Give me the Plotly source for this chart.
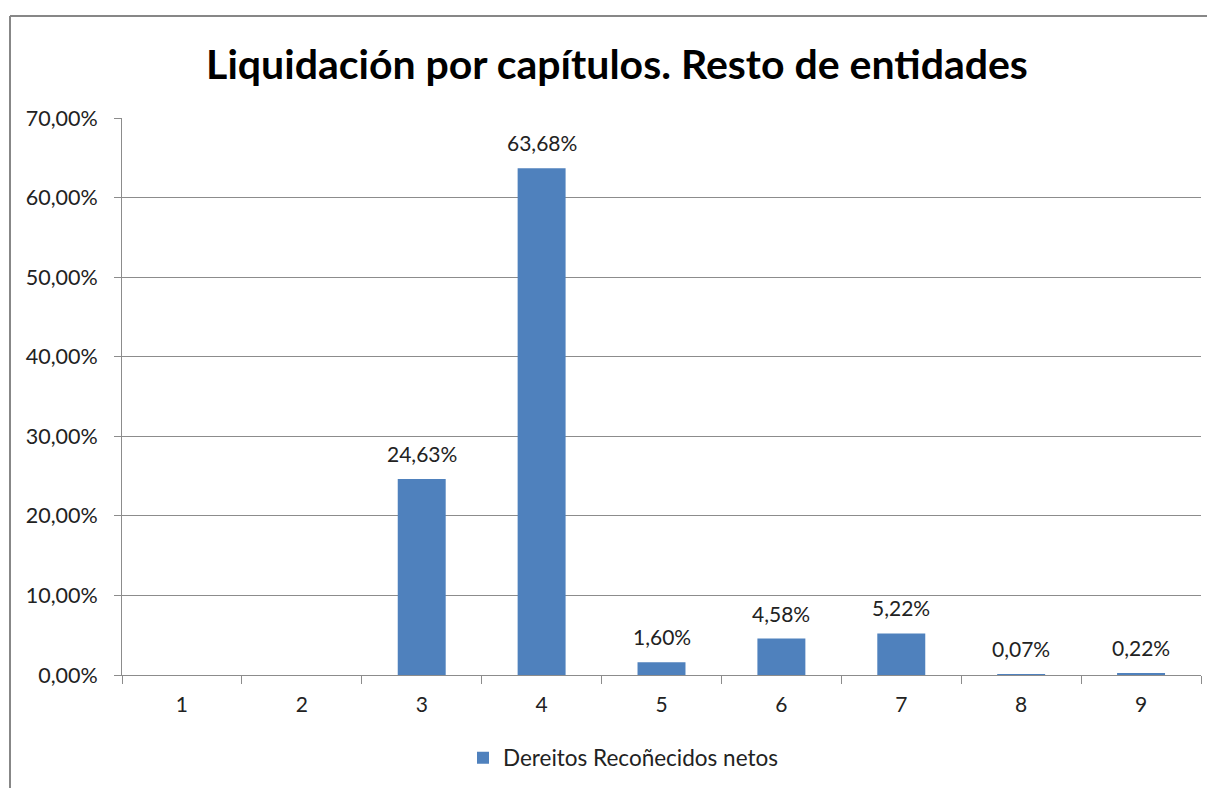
import plotly.graph_objects as go

categories = ["1", "2", "3", "4", "5", "6", "7", "8", "9"]
values = [0.0, 0.0, 0.2463, 0.6368, 0.0160, 0.0458, 0.0522, 0.0007, 0.0022]
series_name = "Dereitos Recoñecidos netos"
title_text = "Liquidación por capítulos. Resto de entidades"
y_ticks = [0, 0.1, 0.2, 0.3, 0.4, 0.5, 0.6, 0.7]

labels = [("%.2f%%" % (v * 100)).replace(".", ",") if v > 0 else "" for v in values]

# page offset due to default body margin
OFF = 8
W, H = 1215, 788
# target plot area in page pixels
PL, PR, PT, PB = 122, 1201, 118, 675
ml = PL - OFF
mt = PT - OFF
mr = W - (PR - OFF)
mb = H - (PB - OFF)
pw, ph = W - ml - mr, H - mt - mb

def px_x(x):
    return (x - OFF - ml) / pw

def px_y(y):
    return (H - mb - (y - OFF)) / ph

fig = go.Figure()
fig.add_trace(go.Bar(
    x=categories, y=values, name=series_name,
    marker=dict(color="#4F81BD", line=dict(width=0)),
    showlegend=True,
))

annotations = []
for i, (v, t) in enumerate(zip(values, labels)):
    if t:
        annotations.append(dict(x=i, y=v, xref="x", yref="y", text=t,
                                showarrow=False, yanchor="bottom", yshift=11,
                                font=dict(family="Lato", size=21, color="#222222")))

grid = "#8c8c8c"
fig.update_layout(
    width=W, height=H,
    margin=dict(l=ml, r=mr, t=mt, b=mb),
    paper_bgcolor="white", plot_bgcolor="white",
    separators=",.",
    bargap=0.6,
    font=dict(family="Lato", color="#222222"),
    title=dict(text="<b>" + title_text + "</b>", x=(617 - OFF) / W, xanchor="center",
               y=1 - (65 - OFF) / H, yanchor="middle",
               font=dict(family="Lato", size=41, color="#000000")),
    xaxis=dict(type="category", categoryorder="array", categoryarray=categories,
               range=[-0.5, len(categories) - 0.5],
               showline=True, linecolor=grid, linewidth=1,
               ticks="outside", tickson="boundaries", ticklen=8, tickcolor=grid,
               tickfont=dict(family="Lato", size=21, color="#222222"),
               showgrid=False, ticklabelstandoff=11),
    yaxis=dict(range=[0, 0.7], tickvals=y_ticks, tickformat=".2%",
               showline=True, linecolor=grid, linewidth=1,
               ticks="outside", ticklen=7, tickcolor=grid,
               showgrid=True, gridcolor=grid, gridwidth=1, zeroline=False,
               tickfont=dict(family="Lato", size=21.5, color="#222222"),
               ticklabelstandoff=12),
    legend=dict(orientation="h", x=px_x(623), xanchor="center",
                y=px_y(758), yanchor="middle",
                font=dict(family="Lato", size=22.5, color="#222222")),
    annotations=annotations,
    shapes=[
        dict(type="line", xref="paper", yref="paper",
             x0=px_x(10), x1=px_x(1240), y0=px_y(16), y1=px_y(16),
             line=dict(color="#878787", width=2)),
        dict(type="line", xref="paper", yref="paper",
             x0=px_x(10), x1=px_x(10), y0=px_y(16), y1=px_y(810),
             line=dict(color="#878787", width=2)),
    ],
)

fig.write_html("out.html")
